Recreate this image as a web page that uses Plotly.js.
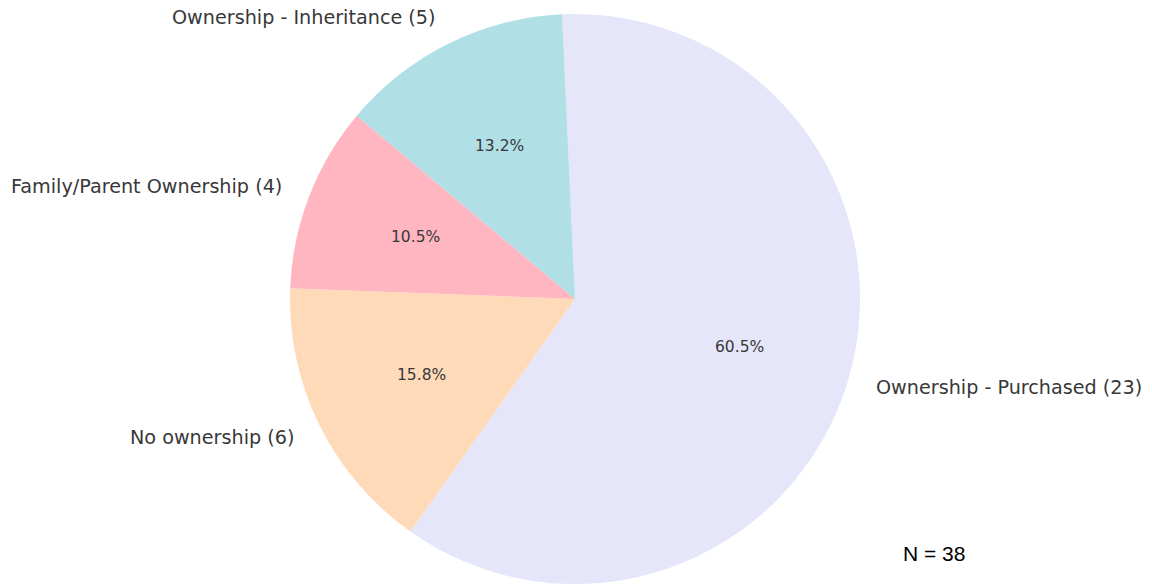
<!DOCTYPE html>
<html>
<head>
<meta charset="utf-8">
<script src="https://cdn.plot.ly/plotly-3.0.1.min.js"></script>
<style>html,body{margin:0;padding:0;background:#fff;}</style>
</head>
<body>
<div id="chart" style="width:1152px;height:586px;"></div>
<script>
// Data (clockwise order starting near 12 o'clock)
const categories = ["Ownership - Purchased", "No ownership", "Family/Parent Ownership", "Ownership - Inheritance"];
const counts = [23, 6, 4, 5];
const colors = ["#E6E6FA", "#FFDAB9", "#FFB6C1", "#B0E0E6"];
const totalLabel = "N = 38";

const W = 1152, H = 586;
const margin = {l: 0, r: 2, t: 14, b: 2, pad: 0};
const rotationDeg = -2.6; // plotly rotation (clockwise from 12 o'clock)
const plotW = W - margin.l - margin.r, plotH = H - margin.t - margin.b;
const R = Math.min(plotW, plotH) / 2;
const cx = margin.l + plotW / 2, cy = margin.t + plotH / 2;

const total = counts.reduce((a, b) => a + b, 0);
const annotations = [];
let ang = rotationDeg; // clockwise from 12 o'clock
const toPaperX = px => (px - margin.l) / plotW;
const toPaperY = py => 1 - (py - margin.t) / plotH;
counts.forEach((v, i) => {
  const span = 360 * v / total;
  const mid = (ang + span / 2) * Math.PI / 180;
  ang += span;
  const dx = Math.sin(mid), dy = -Math.cos(mid); // screen coords
  const pad = dx >= 0 ? -2 : 2;
  annotations.push({
    xref: 'paper', yref: 'paper',
    x: toPaperX(cx + 1.1 * R * dx + pad), y: toPaperY(cy + 1.1 * R * dy),
    text: categories[i] + " (" + v + ")",
    showarrow: false,
    xanchor: dx >= 0 ? 'left' : 'right', yanchor: 'middle',
    font: {family: 'DejaVu Sans', size: 19.2, color: '#383838'}
  });
  annotations.push({
    xref: 'paper', yref: 'paper',
    x: toPaperX(cx + 0.6 * R * dx), y: toPaperY(cy + 0.6 * R * dy),
    text: (100 * v / total).toFixed(1) + "%",
    showarrow: false,
    xanchor: 'center', yanchor: 'middle',
    font: {family: 'DejaVu Sans', size: 15.5, color: '#383838'}
  });
});
annotations.push({
  xref: 'paper', yref: 'paper',
  x: toPaperX(901), y: toPaperY(553),
  text: totalLabel, showarrow: false,
  xanchor: 'left', yanchor: 'middle',
  font: {family: 'Liberation Sans, Arial', size: 21, color: '#000000'}
});

const trace = {
  type: 'pie',
  labels: categories,
  values: counts,
  sort: false,
  direction: 'clockwise',
  rotation: rotationDeg,
  marker: {colors: colors, line: {width: 0}},
  textinfo: 'none',
  hoverinfo: 'label+value+percent',
  showlegend: false,
  domain: {x: [0, 1], y: [0, 1]}
};

Plotly.newPlot('chart', [trace], {
  width: W, height: H,
  margin: margin,
  paper_bgcolor: '#ffffff',
  showlegend: false,
  annotations: annotations
}, {displayModeBar: false, staticPlot: true});
</script>
</body>
</html>
